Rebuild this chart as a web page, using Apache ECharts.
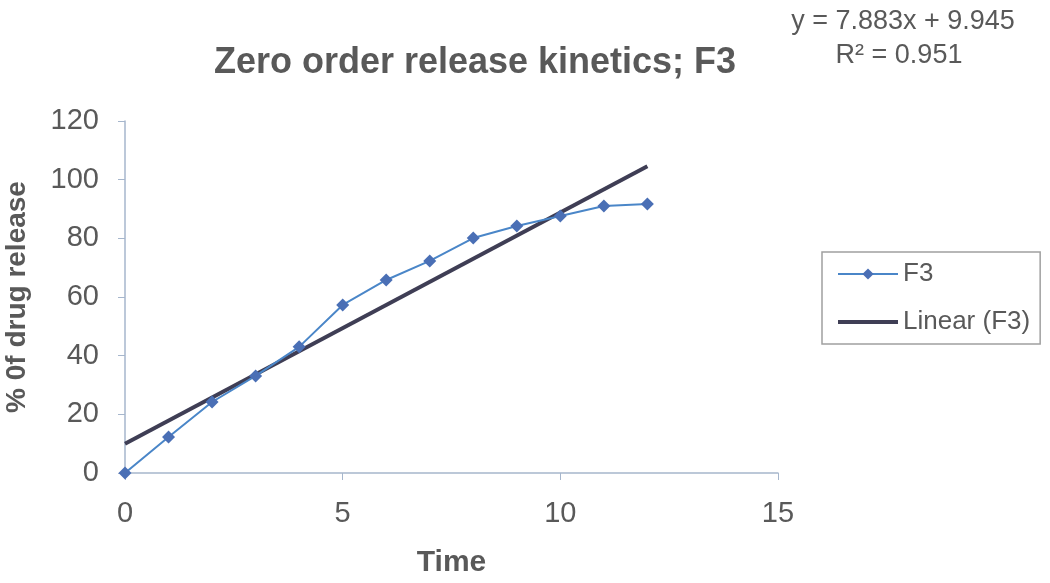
<!DOCTYPE html>
<html><head><meta charset="utf-8">
<script src="https://cdn.jsdelivr.net/npm/echarts@6/dist/echarts.min.js"></script>
<style>html,body{margin:0;padding:0;background:#fff}#c{width:1050px;height:583px}</style>
</head><body><div id="c"></div>
<script>
const timeValues = [0,1,2,3,4,5,6,7,8,9,10,11,12];
const releaseF3 = [0,12.3,24.2,33.1,43,57.3,65.8,72.3,80.1,84.2,87.6,91,91.7];
const trendX = [0,12];
const trendY = [9.945,104.541];
const xTicks = [0,5,10,15];
const yTicks = [0,20,40,60,80,100,120];
const equationText = 'y = 7.883x + 9.945';
const r2Text = 'R² = 0.951';

const chart = echarts.init(document.getElementById('c'));
const font = 'Liberation Sans, Arial, sans-serif';
const txt = '#595959';
const axisCol = '#a6b6cc';
chart.setOption({
  animation:false,
  title:{text:'Zero order release kinetics; F3',left:470,top:40,textAlign:'center',
    textStyle:{fontFamily:font,fontSize:36,fontWeight:'bold',color:txt}},
  graphic:[
    {type:'text',style:{x:903,y:8,text:equationText,textAlign:'center',font:'27px '+font,fill:txt}},
    {type:'text',style:{x:899,y:42,text:r2Text,textAlign:'center',font:'27px '+font,fill:txt}}
  ],
  legend:{orient:'vertical',left:822,top:252,width:230,padding:[9,10,9,14],itemGap:22,itemWidth:60,itemHeight:14,
    borderColor:'#a0a0a0',borderWidth:1.5,
    textStyle:{fontFamily:font,fontSize:26,color:txt},
    data:[{name:'F3'},{name:'Linear (F3)',itemStyle:{opacity:0},lineStyle:{width:4}}]},
  grid:{left:125,right:272,top:121,bottom:110,containLabel:false,outerBoundsMode:'none'},
  xAxis:{type:'value',min:xTicks[0],max:xTicks[xTicks.length-1],interval:5,
    name:'Time',nameLocation:'middle',nameGap:75,
    nameTextStyle:{fontFamily:font,fontSize:30,fontWeight:'bold',color:txt},
    axisLine:{lineStyle:{color:axisCol,width:1.5}},axisTick:{show:true,length:7,lineStyle:{color:axisCol}},
    splitLine:{show:false},
    axisLabel:{fontFamily:font,fontSize:29,color:txt,margin:26}},
  yAxis:{type:'value',min:yTicks[0],max:yTicks[yTicks.length-1],interval:20,
    name:'% 0f drug release',nameLocation:'middle',nameGap:94,
    nameTextStyle:{fontFamily:font,fontSize:28,fontWeight:'bold',color:txt},
    axisLine:{show:true,lineStyle:{color:axisCol,width:1.5}},axisTick:{show:true,length:7,lineStyle:{color:axisCol}},
    splitLine:{show:false},
    axisLabel:{fontFamily:font,fontSize:29,color:txt,margin:26}},
  series:[
    {name:'Linear (F3)',type:'line',data:trendX.map((x,i)=>[x,trendY[i]]),symbol:'none',
      lineStyle:{color:'#3f3e55',width:4},itemStyle:{color:'#3f3e55'},z:2},
    {name:'F3',type:'line',data:timeValues.map((x,i)=>[x,releaseF3[i]]),symbol:'diamond',symbolSize:13,
      lineStyle:{color:'#4a86c8',width:2},itemStyle:{color:'#4a6fb5'},z:3}
  ]
});
</script></body></html>
